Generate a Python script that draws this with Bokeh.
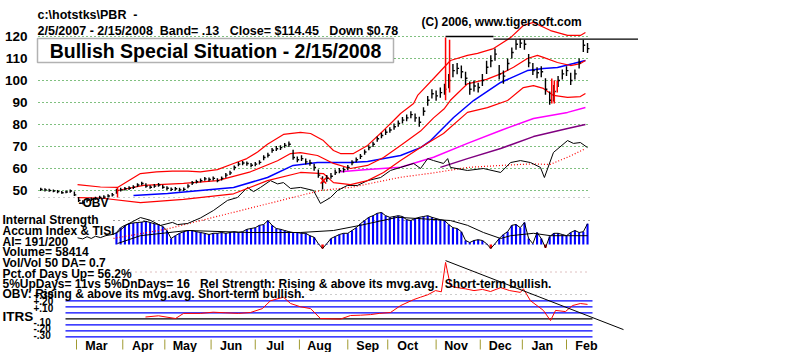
from bokeh.plotting import figure
from bokeh.models import Range1d, Label, BoxAnnotation
from bokeh.core.properties import value
from bokeh.embed import file_html
from bokeh.resources import INLINE

FONT = "Liberation Sans"
NB = "\u00a0"

# ---------------- data (trading-day index from 2/5/2007) ----------------
bar_days = list(range(0, 261, 2))
closes = [50.5, 50.3, 50.0, 49.8, 49.5, 49.0, 49.3, 49.8, 48.0, 45.5,
          44.5, 45.5, 46.0, 46.5, 46.8, 47.0, 47.5, 48.0, 50.0, 50.3,
          50.8, 51.0, 51.5, 52.5, 53.2, 52.0, 51.5, 52.0, 52.5, 51.5,
          51.0, 50.5, 50.8, 50.3, 50.5, 52.0, 53.5, 54.0, 54.5, 55.3,
          55.0, 55.5, 54.5, 55.5, 57.0, 58.0, 60.5, 62.0, 62.5, 62.3,
          61.5, 62.0, 62.8, 65.0, 66.0, 68.3, 69.0, 69.5, 70.5, 71.0,
          65.0, 64.0, 64.5, 63.0, 62.5, 60.5, 57.0, 54.0, 55.5, 56.5,
          58.2, 59.0, 59.5, 60.5, 62.7, 64.0, 65.5, 67.5, 69.5, 71.0,
          73.5, 75.0, 76.5, 77.5, 79.0, 80.5, 82.0, 83.0, 84.5, 83.0,
          81.0, 86.0, 91.0, 94.0, 93.0, 94.5, 96.0, 100.0, 104.5, 105.5,
          104.0, 101.0, 96.0, 97.5, 96.8, 100.0, 106.0, 109.0, 112.0, 103.0,
          102.0, 107.7, 112.7, 116.5, 117.0, 116.5, 108.0, 104.5, 103.5, 104.0,
          96.0, 91.0, 95.0, 100.0, 103.0, 104.5, 100.0, 103.0, 108.0, 116.0,
          114.5]
highs = [51.2, 51.0, 50.8, 50.5, 50.2, 49.8, 50.0, 50.4, 49.6, 47.0,
         45.6, 46.3, 46.8, 47.2, 47.6, 47.8, 48.3, 48.9, 50.8, 51.2,
         51.6, 51.9, 52.4, 53.3, 54.0, 53.3, 52.4, 52.9, 53.4, 52.6,
         51.9, 51.4, 51.6, 51.2, 51.4, 52.8, 54.3, 54.9, 55.4, 56.1,
         55.9, 56.4, 55.6, 56.4, 57.9, 59.0, 61.4, 63.0, 63.4, 63.2,
         62.5, 63.0, 63.8, 66.0, 67.2, 69.3, 70.2, 70.6, 71.6, 72.3,
         68.5, 65.5, 66.0, 64.6, 64.0, 62.2, 59.5, 56.5, 57.0, 58.0,
         59.5, 60.2, 60.6, 61.6, 63.8, 65.0, 66.6, 68.6, 70.6, 72.2,
         74.6, 76.2, 77.8, 78.8, 80.4, 81.8, 83.4, 84.5, 86.0, 85.0,
         83.5, 87.8, 93.0, 96.0, 95.5, 96.8, 98.5, 103.0, 107.5, 108.0,
         106.8, 104.0, 99.5, 100.0, 99.0, 103.0, 109.0, 111.5, 114.5, 107.0,
         104.5, 110.0, 115.0, 118.5, 119.0, 118.5, 112.0, 108.0, 106.0, 106.5,
         101.0, 95.0, 98.0, 102.0, 105.0, 106.5, 103.5, 105.0, 110.0, 118.5,
         117.0]
lows = [49.8, 49.6, 49.4, 49.2, 48.8, 48.5, 48.7, 49.0, 47.5, 44.8,
        43.8, 44.6, 45.2, 45.8, 46.1, 46.3, 46.8, 47.3, 48.5, 49.6,
        50.0, 50.2, 50.7, 51.6, 52.3, 51.3, 50.8, 51.2, 51.7, 50.8,
        50.2, 49.8, 50.0, 49.6, 49.8, 51.0, 52.5, 53.2, 53.6, 54.4,
        54.1, 54.6, 53.8, 54.6, 55.8, 57.0, 59.2, 61.0, 61.5, 61.3,
        60.6, 61.0, 61.8, 63.8, 65.0, 67.2, 68.0, 68.4, 69.4, 69.8,
        64.0, 62.8, 63.4, 61.8, 61.2, 59.0, 55.8, 50.5, 54.0, 55.3,
        57.0, 57.8, 58.2, 59.2, 61.5, 62.8, 64.3, 66.3, 68.3, 69.8,
        72.2, 73.8, 75.2, 76.2, 77.6, 79.0, 80.5, 81.5, 82.8, 81.2,
        79.0, 84.0, 88.5, 91.8, 90.8, 92.2, 93.5, 96.5, 101.5, 102.8,
        101.0, 98.0, 93.5, 95.0, 94.5, 97.5, 103.0, 106.0, 109.0, 100.5,
        98.5, 104.5, 110.0, 114.0, 114.8, 114.0, 106.0, 102.5, 101.0, 101.5,
        93.5, 89.0, 90.5, 97.0, 100.5, 102.0, 98.0, 100.5, 105.5, 113.0,
        112.5]

signal_days = [36.5, 192.5, 194.4, 243.0, 244.2, 245.6]
signal_highs = [51.4, 119.5, 118.5, 100.9, 100.0, 100.0]
signal_lows = [46.8, 91.0, 94.5, 89.5, 89.5, 94.5]
sell_day = [134.4]
sell_price = [54.5]

resist1_days = [192.5, 215.3]
resist1 = [120.0, 120.0]
resist2_days = [215.3, 284.0]
resist2 = [118.8, 118.8]

upper_days = [17.5, 28.4, 36.5, 47.4, 55.0, 62.6, 70.0, 75.9, 84.0, 91.7, 98.0,
              103.1, 107.8, 115.4, 123.5, 128.3, 134.4, 139.2, 142.5, 148.7,
              155.4, 163.0, 167.8, 171.1, 177.3, 179.2, 186.8, 194.8, 202.9,
              207.7, 215.3, 223.4, 229.5, 234.3, 242.4, 250.5, 256.6, 259.0]
upper = [52.7, 51.6, 51.4, 57.7, 58.5, 58.8, 58.8, 58.5, 59.5, 62.3, 64.5,
         67.5, 71.0, 75.5, 76.4, 75.9, 72.7, 68.2, 66.8, 66.8,
         70.5, 77.3, 81.8, 85.0, 89.5, 93.2, 100.9, 109.1, 111.4,
         112.3, 114.5, 119.5, 125.0, 126.4, 122.7, 120.5, 120.5, 121.8]

ma21_days = [36.5, 48.9, 67.9, 84.0, 99.7, 112.6, 118.8, 123.5, 131.6, 139.2,
             147.3, 155.4, 163.0, 171.1, 180.6, 186.8, 192.0, 194.8, 202.9,
             212.0, 218.7, 224.8, 231.4, 236.2, 239.0, 245.7, 251.9, 256.6, 259.0]
ma21 = [50.0, 52.3, 53.2, 54.5, 58.5, 63.5, 66.8, 67.2, 65.9, 62.3,
        60.0, 61.4, 65.0, 70.5, 77.0, 83.0, 87.3, 91.0, 98.5,
        100.5, 103.0, 106.0, 110.0, 111.4, 110.5, 108.2, 106.8, 107.7, 109.1]

lower_days = [17.5, 28.4, 47.4, 67.9, 91.7, 107.8, 123.5, 134.4, 139.2, 147.3,
              155.4, 163.0, 171.1, 180.6, 191.5, 202.9, 212.4, 222.0, 229.5,
              234.3, 239.0, 243.8, 250.5, 256.6, 259.0]
lower = [46.8, 46.6, 44.5, 46.0, 48.5, 54.5, 58.2, 57.7, 53.6, 52.7,
         54.5, 58.2, 63.6, 69.5, 75.9, 85.5, 87.7, 90.9, 96.8,
         97.7, 96.4, 93.2, 92.3, 92.7, 94.1]

ma50_days = [44.1, 60.3, 75.9, 91.7, 107.8, 120.0, 131.6, 147.3, 155.4, 171.1,
             180.6, 185.4, 196.3, 205.8, 218.7, 231.4, 239.0, 245.7, 253.3, 259.0]
ma50 = [47.7, 48.6, 50.0, 51.4, 55.9, 61.4, 62.7, 62.7, 63.2, 65.9,
        69.5, 72.7, 83.2, 90.9, 99.1, 104.5, 105.5, 105.9, 107.7, 109.1]

ma_long_days = [142.5, 155.4, 171.1, 186.8, 202.9, 218.7, 234.3, 250.5, 259.0]
ma_long = [58.5, 59.5, 60.6, 65.1, 71.4, 77.3, 82.7, 85.5, 87.7]

ma_200_days = [190.0, 202.9, 218.7, 234.3, 250.5, 259.0]
ma_200 = [60.5, 64.5, 69.1, 74.5, 78.2, 80.0]

obv_days = [17.5, 20, 22, 24, 26, 28.4, 31, 34, 36.5, 41, 47.4, 52, 56.9, 62.6,
            65, 69.8, 75.9, 82.1, 88.8, 93.5, 98.3, 101.2, 104.5, 109.2, 112.6,
            115.4, 118.8, 123.5, 129.7, 133.0, 137.8, 141.1, 145.8, 150.6,
            155.4, 161.6, 166.3, 171.1, 177.3, 180.6, 184.0, 186.8, 191.5,
            193.5, 194.8, 202.9, 210.5, 218.7, 223.4, 228.1, 232.9, 237.6,
            239.5, 243.8, 250.5, 253.3, 256.6, 260.0]
obv = [28.5, 28.0, 29.0, 28.2, 29.2, 28.6, 29.5, 30.0, 30.9, 34.5, 37.7, 36.5,
       34.1, 35.5, 34.5, 35.0, 37.5, 40.9, 45.5, 46.8, 51.4, 49.5, 51.4, 54.5,
       53.0, 53.6, 50.9, 51.4, 50.0, 44.1, 46.8, 50.0, 52.3, 52.3, 54.5, 55.9,
       59.1, 60.5, 62.3, 60.0, 64.5, 63.6, 62.3, 64.5, 60.5, 59.1, 60.0, 58.2,
       62.7, 63.6, 62.7, 60.5, 55.9, 67.3, 72.7, 71.4, 71.8, 69.5]

obv_ma_days = [34.6, 60.0, 85.5, 108.0, 133.0, 148.0, 171.0, 186.8, 203.0,
               219.0, 234.0, 242.0, 250.5, 259.0]
obv_ma = [28.2, 32.5, 38.6, 44.0, 50.0, 51.5, 56.0, 58.0, 60.5, 61.4, 62.1,
          61.8, 65.1, 69.0]

acc_days = list(range(36, 261, 2))
acc = [15, 21, 24, 26, 27, 27.5, 28, 29, 27.5, 26,
       25, 22.5, 17.5, 7.5, 11, 14, 16, 17.5, 17.5, 16,
       15, 14, 12.5, 14, 14, 15, 14, 15, 16, 15,
       16, 19, 20, 21, 24, 25, 30, 24, 20, 19,
       17.5, 16, 15, 15, 14, 14, 11, 9, 1, -5,
       1, 7.5, 10, 12.5, 14, 14, 17.5, 21, 26, 30,
       34, 36, 39, 40, 36, 34, 35, 36, 35, 31,
       30, 32.5, 34, 35, 36, 34, 32.5, 31, 30, 25,
       21, 20, 16, 5, 2.5, 5, 6, 5, 1, -5,
       1, 7.5, 12.5, 16, 24, 25, 21, 27.5, 7.5, 1,
       15, 7.5, -4, 10, 14, 14, 12.5, 11, 15, 17.5,
       15, 16, 26]
acc_ma_days = [36.5, 47.4, 69.8, 99.7, 123.5, 139.2, 152.0, 169.6, 194.8,
               202.9, 210.5, 218.7, 223.4, 234.3, 242.4, 260.0]
acc_ma = [1.25, 11, 17.5, 15, 15, 17.5, 24, 34, 30, 24, 15, 7.5, 11, 14, 11, 11]

itrs_days = [49.8, 56.0, 64.1, 67.9, 75.9, 82.0, 87.8, 94.0, 99.7, 105.4, 109.2,
             115.4, 118.8, 123.5, 128.3, 133.0, 137.8, 142.5, 147.3, 152.0,
             156.8, 161.0, 166.3, 171.1, 177.3, 180.6, 184.0, 187.7, 190.5,
             192.5, 194.8, 198.0, 201.9, 206.0, 210.0, 213.9, 218.7, 223.0,
             228.1, 229.5, 232.9, 236.0, 239.0, 242.4, 244.8, 249.5, 252.8,
             256.6, 260.0]
itrs = [0.03, 0.05, 0.005, 0.09, 0.09, 0.11, 0.10, 0.09, 0.105, 0.17, 0.30,
        0.36, 0.255, 0.20, 0.17, 0.005, 0.0, -0.005, 0.055, 0.06,
        0.07, 0.09, 0.105, 0.22, 0.32, 0.36, 0.40, 0.47, 0.45,
        0.94, 0.55, 0.52, 0.50, 0.47, 0.49, 0.455, 0.52, 0.47,
        0.44, 0.50, 0.30, 0.22, 0.14, -0.03, 0.14, 0.12, 0.22,
        0.255, 0.24]
itrs_trend_days = [192.5, 277.1]
itrs_trend = [0.97, -0.18]

month_starts = [17, 39, 59, 81, 102, 123, 146, 165, 188, 209, 229, 250]
month_labels = ["Mar", "Apr", "May", "Jun", "Jul", "Aug", "Sep", "Oct",
                "Nov", "Dec", "Jan", "Feb"]
price_ticks = [50, 60, 70, 80, 90, 100, 110, 120]
itrs_levels = [0.3, 0.2, 0.1, -0.1, -0.2, -0.3]
itrs_tick_labels = ["+.30", "+.20", "+.10", "-.10", "-.20", "-.30"]

# ---------------- layout helpers (pixel -> data) ----------------
W, H = 800, 352
SX, XOFF = 2.103, 40.25


def dx(px):
    return (px - XOFF) / SX


def py(yp):
    return 120 - (yp - 36) / 2.2


def ay(yp):
    return (244 - yp) / 0.8


def iy(yp):
    return (318.3 - yp) / 60.0


p = figure(width=W, height=H, x_range=Range1d(dx(0), dx(W)),
           y_range=Range1d(py(H), py(0)), output_backend="svg",
           toolbar_location=None, min_border=0, min_border_left=0,
           min_border_right=0, min_border_top=0, min_border_bottom=0)
p.extra_y_ranges = {"acc": Range1d(ay(H), ay(0)), "itrs": Range1d(iy(H), iy(0))}
p.outline_line_color = None
p.axis.visible = False
p.xgrid.visible = False
p.ygrid.visible = False
p.background_fill_color = "white"
p.border_fill_color = "white"

TXT = dict(text_font=value(FONT), text_font_style="bold", text_color="black")

# price tick labels (left scale)
p.text(x=[dx(27)] * len(price_ticks), y=price_ticks, text=[str(t) for t in price_ticks],
       text_align="right", text_baseline="middle", text_font_size="13.5px", **TXT)

# month separators and labels
label_pos = [m + 9.5 for m in month_starts]
p.segment(x0=month_starts, y0=[py(339)] * len(month_starts), x1=month_starts,
          y1=[py(349)] * len(month_starts), line_color="#a09a30", line_width=1)
p.text(x=label_pos, y=[py(345)] * len(label_pos), text=month_labels,
       text_align="center", text_baseline="middle", text_font_size="12.5px", **TXT)

# grid lines (price panel)
gx0, gx1 = dx(38), dx(590)
p.segment(x0=[gx0] * len(price_ticks), y0=price_ticks, x1=[gx1] * len(price_ticks),
          y1=price_ticks, line_color="#008000", line_dash="1 3", line_width=1)
p.segment(x0=[gx0], y0=[py(197)], x1=[gx1], y1=[py(197)], line_color="#999999",
          line_dash="1 4", line_width=1)

# accumulation panel
p.segment(x0=[dx(113)], y0=[ay(220)], x1=[gx1], y1=[ay(220)], line_color="#333333",
          line_dash="1 4", line_width=1, y_range_name="acc")
p.segment(x0=[dx(130)], y0=[ay(271.5)], x1=[gx1], y1=[ay(271.5)], line_color="#c08080",
          line_dash="1 4", line_width=1, y_range_name="acc")
pos_d = [d for d, v in zip(acc_days, acc) if v >= 0]
pos_v = [v for v in acc if v >= 0]
neg_d = [d for d, v in zip(acc_days, acc) if v < 0]
neg_v = [v for v in acc if v < 0]
p.vbar(x=pos_d, top=pos_v, bottom=0, width=1.0, fill_color="#0000ff",
       line_color=None, y_range_name="acc")
p.vbar(x=neg_d, top=neg_v, bottom=0, width=1.2, fill_color="#ff0000",
       line_color=None, y_range_name="acc")
p.line(acc_days, acc, line_color="black", line_width=1, y_range_name="acc")
p.line(acc_ma_days, acc_ma, line_color="black", line_width=1, y_range_name="acc")

# ITRS panel
p.segment(x0=[dx(295)], y0=[iy(294)], x1=[gx1], y1=[iy(294)], line_color="#999999",
          line_dash="1 4", line_width=1, y_range_name="itrs")
ix0, ix1 = dx(65), dx(592)
p.segment(x0=[ix0] * len(itrs_levels), y0=itrs_levels, x1=[ix1] * len(itrs_levels),
          y1=itrs_levels, line_color="#0000ff", line_width=1.2, y_range_name="itrs")
p.segment(x0=[ix0], y0=[0], x1=[ix1], y1=[0], line_color="black", line_width=1.2,
          y_range_name="itrs")
p.line(itrs_days, itrs, line_color="#ff0000", line_width=1, y_range_name="itrs")
p.line(itrs_trend_days, itrs_trend, line_color="black", line_width=1, y_range_name="itrs")

# price panel lines
p.line(ma_200_days, ma_200, line_color="#800080", line_width=1.5)
p.line(ma_long_days, ma_long, line_color="#ff00ff", line_width=1.5)
p.line(obv_ma_days, obv_ma, line_color="#ff0000", line_dash="1 2", line_width=1.2)
p.line(obv_days, obv, line_color="black", line_width=1)
p.line(ma50_days, ma50, line_color="#0000ff", line_width=1.5)
p.line(upper_days, upper, line_color="#ff0000", line_width=1.2)
p.line(ma21_days, ma21, line_color="#ff0000", line_width=1.2)
p.line(lower_days, lower, line_color="#ff0000", line_width=1.2)

# price bars
p.segment(x0=bar_days, y0=lows, x1=bar_days, y1=highs, line_color="black", line_width=1.4)
p.segment(x0=bar_days, y0=closes, x1=[d + 0.9 for d in bar_days], y1=closes,
          line_color="black", line_width=1.4)
p.segment(x0=signal_days, y0=signal_lows, x1=signal_days, y1=signal_highs,
          line_color="#ff0000", line_width=1.5)
p.scatter(sell_day, sell_price, marker="x", size=8, line_color="#ff0000", line_width=1.5)
p.line(resist1_days, resist1, line_color="black", line_width=1.3)
p.line(resist2_days, resist2, line_color="black", line_width=1.3)


# ---------------- texts ----------------
def txt(s, px, yc, size="12px", align="left"):
    p.add_layout(Label(x=dx(px), y=py(yc), text=s.replace(" ", NB), text_font=FONT,
                       text_font_size=size, text_font_style="bold",
                       text_color="black", text_align=align,
                       text_baseline="middle"))


txt("c:\\hotstks\\PBR  -", 37, 14, size="12.5px")
txt("2/5/2007 - 2/15/2008  Band= .13   Close= $114.45   Down $0.78", 37, 30, size="12.5px")
txt("(C) 2006, www.tigersoft.com", 421, 21)
p.add_layout(BoxAnnotation(left=dx(37), right=dx(393), top=py(38), bottom=py(62),
                           fill_color="white", fill_alpha=1.0, line_color="black",
                           line_width=1.5))
txt("Bullish Special Situation - 2/15/2008", 215, 50, size="19.5px", align="center")
txt("-OBV", 78, 202)
txt("Internal Strength", 2, 219)
txt("Accum Index & TISI", 2, 230)
txt("AI= 191/200", 2, 241)
txt("Volume= 58414", 2, 251.5)
txt("Vol/Vol 50 DA= 0.7", 2, 262.5)
txt("Pct.of Days Up= 56.2%", 2, 273)
txt("5%UpDays= 11vs 5%DnDays= 16   Rel Strength: Rising & above its mvg.avg.  Short-term bullish.", 2, 283)
txt("OBV: Rising & above its mvg.avg. Short-term bullish.", 2, 293.5)
txt("ITRS", 2, 316, size="13.5px")
itrs_label_rows = [294, 300, 307, 321, 327, 334]
for s, r in zip(itrs_tick_labels, itrs_label_rows):
    txt(s, 33, r, size="10px")

open("out.html", "w").write(file_html(p, INLINE))
